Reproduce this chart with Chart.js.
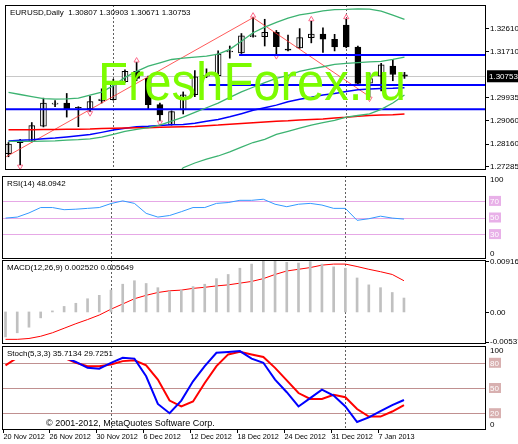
<!DOCTYPE html>
<html><head><meta charset="utf-8">
<script src="https://cdn.jsdelivr.net/npm/chart.js@4/dist/chart.umd.min.js"></script>
<style>body{margin:0;background:#fff;width:518px;height:444px;overflow:hidden;position:relative}div.p{position:absolute;left:0;width:518px}</style>
</head><body>
<div class="p" style="top:0;height:175px"><canvas id="c1" width="518" height="175"></canvas></div>
<div class="p" style="top:175px;height:85px"><canvas id="c2" width="518" height="85"></canvas></div>
<div class="p" style="top:259px;height:86px"><canvas id="c3" width="518" height="86"></canvas></div>
<div class="p" style="top:345px;height:99px"><canvas id="c4" width="518" height="99"></canvas></div>
<script>
const dates = ["20 Nov 2012","26 Nov 2012","30 Nov 2012","6 Dec 2012","12 Dec 2012","18 Dec 2012","24 Dec 2012","31 Dec 2012","7 Jan 2013"];
const dateIdx = [0,4,8,12,16,20,24,28,32];
const open  = [1.2777,1.2819,1.2824,1.2883,1.2968,1.2972,1.2954,1.2950,1.2981,1.2985,1.3054,1.3094,1.3067,1.2966,1.2889,1.2946,1.3004,1.3076,1.3078,1.3169,1.3165,1.3228,1.3228,1.3245,1.3178,1.3185,1.3224,1.3238,1.3218,1.3273,1.3188,1.3049,1.3076,1.3115,1.30807];
const high  = [1.2820,1.2832,1.2897,1.2991,1.2982,1.3009,1.2958,1.2999,1.3027,1.3064,1.3100,1.3128,1.3076,1.2972,1.2942,1.3015,1.3097,1.3104,1.3173,1.3192,1.3240,1.3301,1.3295,1.3252,1.3234,1.3259,1.3287,1.3262,1.3237,1.3295,1.3192,1.3088,1.3125,1.3140,1.30903];
const low   = [1.2765,1.2735,1.2822,1.2880,1.2958,1.2918,1.2881,1.2941,1.2972,1.2983,1.3052,1.3058,1.2948,1.2905,1.2887,1.2930,1.2997,1.3070,1.3070,1.3145,1.3163,1.3226,1.3192,1.3161,1.3173,1.3183,1.3204,1.3167,1.3173,1.3185,1.3045,1.2997,1.3019,1.3058,1.30671];
const close = [1.2814,1.2827,1.2885,1.2972,1.2972,1.2948,1.2952,1.2978,1.2987,1.3054,1.3094,1.3067,1.2966,1.2926,1.2939,1.3004,1.3073,1.3078,1.3161,1.3171,1.3231,1.3229,1.3245,1.3189,1.3176,1.3224,1.3238,1.3218,1.3188,1.3188,1.3048,1.3066,1.3119,1.3082,1.30753];
const bbUpper = [1.3013,1.3005,1.2997,1.2989,1.2987,1.2988,1.2991,1.3003,1.3014,1.3039,1.3071,1.3094,1.3114,1.3127,1.3140,1.3145,1.3149,1.3153,1.3161,1.3179,1.3210,1.3243,1.3265,1.3283,1.3299,1.3312,1.3319,1.3327,1.3332,1.3333,1.3335,1.3334,1.3326,1.3311,1.3295];
const bbMiddle = [1.2824,1.2824,1.2824,1.2825,1.2826,1.2829,1.2831,1.2834,1.2841,1.2851,1.2863,1.2871,1.2877,1.2887,1.2902,1.2918,1.2936,1.2954,1.2972,1.2994,1.3015,1.3033,1.3051,1.3067,1.3079,1.3094,1.3104,1.3112,1.3121,1.3125,1.3128,1.3131,1.3133,1.3140,1.3149];
const bbLower = [1.2635,1.2642,1.2651,1.2661,1.2665,1.2669,1.2672,1.2664,1.2668,1.2662,1.2654,1.2648,1.2641,1.2647,1.2663,1.2723,1.2741,1.2756,1.2768,1.2784,1.2802,1.2820,1.2832,1.2851,1.2863,1.2875,1.2887,1.2897,1.2905,1.2918,1.2924,1.2930,1.2948,1.2972,1.3003];
const maBlue = [1.2826,1.2829,1.2831,1.2834,1.2837,1.2841,1.2846,1.2851,1.2859,1.2868,1.2875,1.2881,1.2883,1.2886,1.2888,1.2889,1.2894,1.2902,1.2909,1.2919,1.2931,1.2944,1.2954,1.2964,1.2977,1.2987,1.2994,1.3003,1.3009,1.3017,1.3023,1.3026,1.3028,1.3029,1.3031];
const maRed = [1.2869,1.2869,1.2869,1.2870,1.2870,1.2871,1.2871,1.2872,1.2874,1.2875,1.2876,1.2877,1.2877,1.2879,1.2880,1.2881,1.2882,1.2885,1.2887,1.2890,1.2893,1.2896,1.2899,1.2902,1.2904,1.2907,1.2909,1.2911,1.2914,1.2917,1.2921,1.2924,1.2926,1.2927,1.2930];
const levels = [{p:1.2948,from:-0.3},{p:1.3157,from:19.8},{p:1.3042,from:17.2}];
const zigzagIdx = [-0.2,21,31];
const zigzagVal = [1.2765,1.3301,1.2997];
const fractalUp = [11,21,26,29];
const fractalDown = [1,7,13,23,31];
const priceTicks = [1.32610,1.31710,1.29935,1.29060,1.28160,1.27285];
const lastPrice = 1.30753;
const rsi = [49.3,50.5,55.5,62,62,59.4,60,61,62,66.8,70,67,55,50.5,52.4,57,62,62,67,68,70.7,70.7,72,66,63,66,67,65,61,61,46.6,48.5,51.6,49.3,48.09];
const macdHist = [-0.00452,-0.00377,-0.00276,-0.00107,0.00019,0.0010,0.00157,0.00239,0.00301,0.00395,0.00502,0.00565,0.00515,0.00439,0.00377,0.00395,0.00458,0.00502,0.00603,0.00678,0.00791,0.00866,0.00916,0.00916,0.00898,0.00885,0.0091,0.00866,0.00816,0.00791,0.00615,0.0049,0.00439,0.00352,0.00252];
const macdSignal = [-0.00496,-0.00496,-0.00480,-0.0044,-0.00377,-0.00295,-0.00213,-0.00138,-0.00056,0.0005,0.00144,0.00239,0.00301,0.00352,0.00383,0.00395,0.00427,0.00446,0.00471,0.0049,0.00521,0.00552,0.00603,0.00678,0.00741,0.00772,0.00803,0.00847,0.00866,0.00866,0.00822,0.00772,0.00728,0.00678,0.005649];
const stochK = [88,90,92,92,90,87,81,74,73,80,86,85,64,31,20,35,58,76,92,93,94,85,80,60,45,28,38,48,41,28,9.5,15,22.6,29.6,35.71];
const stochD = [77,86,88,87,87,86,80,76,76,78,82,83,77,60,35,28,34,56,76,90,93,90,87,74,59,44,37,37,42,39,25,16,16,22,29.73];
const separators = [9,29];

const idx = close.map((_, i) => i);
const pts = arr => arr.map((v, i) => ({x: i, y: v}));
const XMIN = -0.3, XMAX = 41.0;
const FONT = '8px "Liberation Sans", Arial';

function framePlugin(cfg) {
  return {
    id: 'frame',
    beforeDatasetsDraw(chart) {
      const {ctx, chartArea: a, scales} = chart;
      ctx.save();
      (cfg.hlines || []).forEach(h => {
        const y = Math.round(scales.y.getPixelForValue(h.v)) + 0.5;
        ctx.strokeStyle = h.c; ctx.lineWidth = 1;
        ctx.beginPath(); ctx.moveTo(a.left, y); ctx.lineTo(a.right, y); ctx.stroke();
      });
      ctx.setLineDash([2, 2]); ctx.strokeStyle = '#606060';
      separators.forEach(s => {
        const x = Math.round(scales.x.getPixelForValue(s)) + 0.5;
        ctx.beginPath(); ctx.moveTo(x, a.top); ctx.lineTo(x, a.bottom); ctx.stroke();
      });
      ctx.restore();
    },
    afterDatasetsDraw(chart) {
      const {ctx, chartArea: a, scales} = chart;
      ctx.save();
      if (cfg.watermark) {
        ctx.font = '54px "Liberation Sans", Arial';
        ctx.fillStyle = '#7cfc00';
        ctx.textBaseline = 'alphabetic';
        ctx.fillText('FreshForex.ru', 98, 100, 308);
      }
      ctx.strokeStyle = '#000'; ctx.lineWidth = 1;
      ctx.strokeRect(a.left + 0.5, a.top + 0.5, a.right - a.left - 1, a.bottom - a.top - 1);
      ctx.font = FONT; ctx.textBaseline = 'middle'; ctx.textAlign = 'left';
      (cfg.labels || []).forEach(l => {
        let y = l.y !== undefined ? l.y : scales.y.getPixelForValue(l.v);
        ctx.strokeStyle = '#000';
        if (l.tick) { ctx.beginPath(); ctx.moveTo(a.right, Math.round(y)+0.5); ctx.lineTo(a.right+3, Math.round(y)+0.5); ctx.stroke(); }
        if (l.box) {
          ctx.fillStyle = l.box; ctx.fillRect(a.right + 3, y - 5, 12, 10);
          ctx.fillStyle = l.tc || '#fff'; ctx.fillText(l.t, a.right + 4, y + 0.5);
        } else if (l.dark) {
          ctx.fillStyle = '#000'; ctx.fillRect(a.right + 1, y - 6, 31, 12);
          ctx.fillStyle = '#fff'; ctx.fillText(l.t, a.right + 3, y + 0.5);
        } else {
          ctx.fillStyle = '#000'; ctx.fillText(l.t, a.right + 4, y + 0.5);
        }
      });
      if (cfg.title) {
        ctx.textBaseline = 'top';
        const w = ctx.measureText(cfg.title).width;
        if (cfg.titleBg) { ctx.fillStyle = '#fff'; ctx.fillRect(a.left + 3, a.top + 3, w + 4, 11); }
        ctx.fillStyle = '#000'; ctx.fillText(cfg.title, a.left + 5, a.top + 4);
      }
      if (cfg.copyright) {
        ctx.fillStyle = '#000'; ctx.textBaseline = 'alphabetic'; ctx.font = '9px "Liberation Sans", Arial';
        ctx.fillText('© 2001-2012, MetaQuotes Software Corp.', 46, a.bottom - 4);
      }
      if (cfg.dates) {
        ctx.font = '7.3px "Liberation Sans", Arial'; ctx.fillStyle = '#000'; ctx.textBaseline = 'top';
        dateIdx.forEach((d, k) => {
          const x = Math.round(scales.x.getPixelForValue(d)) + 0.5;
          ctx.beginPath(); ctx.moveTo(x - 3, a.bottom); ctx.lineTo(x - 3, a.bottom + 3); ctx.stroke();
          ctx.fillText(dates[k], x - 3, a.bottom + 3);
        });
      }
      ctx.restore();
    }
  };
}

function make(id, datasets, ymin, ymax, cfg, padBottom) {
  return new Chart(document.getElementById(id), {
    type: 'bar',
    data: {datasets},
    options: {
      responsive: false, animation: false, devicePixelRatio: 1,
      layout: {padding: {left: 2, right: 32, top: cfg.padTop || 1, bottom: padBottom || 1}},
      plugins: {legend: {display: false}, tooltip: {enabled: false}},
      scales: {
        x: {type: 'linear', min: XMIN, max: XMAX, offset: false, display: false},
        y: {type: 'linear', min: ymin, max: ymax, display: false}
      }
    },
    plugins: [framePlugin(cfg)]
  });
}

const line = (data, color, width, extra) => Object.assign({type: 'line', data, borderColor: color, borderWidth: width, pointRadius: 0, tension: 0, fill: false}, extra || {});

const mainSets = [
  line(pts(bbUpper), '#3cb371', 1.3),
  line(pts(bbMiddle), '#3cb371', 1.3),
  line(pts(bbLower), '#3cb371', 1.3),
  line(pts(maRed), '#ff0000', 1.5),
  line(pts(maBlue), '#0000ff', 1.5),
  ...levels.map(l => line([{x: l.from, y: l.p}, {x: XMAX, y: l.p}], '#0000ff', 2)),
  line(zigzagIdx.map((x, i) => ({x, y: zigzagVal[i]})), '#ff3030', 0.8),
  {type: 'bar', data: idx.map(i => ({x: i, y: [low[i], high[i]]})), backgroundColor: '#000', barThickness: 1, grouped: false},
  {type: 'bar', data: idx.map(i => ({x: i, y: [open[i], close[i]]})), backgroundColor: idx.map(i => close[i] >= open[i] ? '#fff' : '#000'), borderColor: '#000', borderWidth: 1, borderSkipped: false, barThickness: 6, minBarLength: 1, grouped: false},
  {type: 'line', showLine: false, data: fractalUp.map(i => ({x: i, y: high[i] + 0.0008})), pointStyle: 'triangle', pointRadius: 3, borderColor: '#ff6a8a', backgroundColor: 'rgba(255,255,255,0)', borderWidth: 1},
  {type: 'line', showLine: false, data: fractalDown.map(i => ({x: i, y: low[i] - 0.0008})), pointStyle: 'triangle', rotation: 180, pointRadius: 3, borderColor: '#ff6a8a', backgroundColor: 'rgba(255,255,255,0)', borderWidth: 1}
];
make('c1', mainSets, 1.2714, 1.3350, {
  padTop: 2, watermark: true,
  title: 'EURUSD,Daily  1.30807 1.30903 1.30671 1.30753',
  hlines: [{v: lastPrice, c: '#c8c8c8'}],
  labels: [...priceTicks.map(p => ({v: p, t: p.toFixed(5), tick: true})), {v: lastPrice, t: lastPrice.toFixed(5), dark: true}]
});

make('c2', [line(pts(rsi), '#3399ff', 1)], 0, 100, {
  title: 'RSI(14) 48.0942',
  hlines: [{v: 70, c: '#e6a8e6'}, {v: 50, c: '#e6a8e6'}, {v: 30, c: '#e6a8e6'}],
  labels: [{y: 4, t: '100'}, {y: 78, t: '0'}, {v: 70, t: '70', box: '#e8b0e8'}, {v: 50, t: '50', box: '#e8b0e8'}, {v: 30, t: '30', box: '#e8b0e8'}]
});

make('c3', [
  {type: 'bar', data: pts(macdHist), backgroundColor: '#c0c0c0', barThickness: 2, grouped: false},
  line(pts(macdSignal), '#ff0000', 1)
], -0.0058, 0.0094, {
  title: 'MACD(12,26,9) 0.002520 0.005649',
  labels: [{v: 0.009165, t: '0.009165', tick: true}, {v: 0, t: '0.00', tick: true}, {v: -0.005373, t: '-0.005373', tick: true}]
});

make('c4', [
  line(pts(stochK), '#0000ff', 2),
  line(pts(stochD), '#ff0000', 2)
], 0, 100, {
  title: 'Stoch(5,3,3) 35.7134 29.7251', titleBg: true, copyright: true, dates: true,
  hlines: [{v: 80, c: '#c09090'}, {v: 50, c: '#c09090'}, {v: 20, c: '#c09090'}],
  labels: [{y: 5, t: '100'}, {y: 79, t: '0'}, {v: 80, t: '80', box: '#d8b0b0'}, {v: 50, t: '50', box: '#d8b0b0'}, {v: 20, t: '20', box: '#d8b0b0'}]
}, 14);
</script>
</body></html>
